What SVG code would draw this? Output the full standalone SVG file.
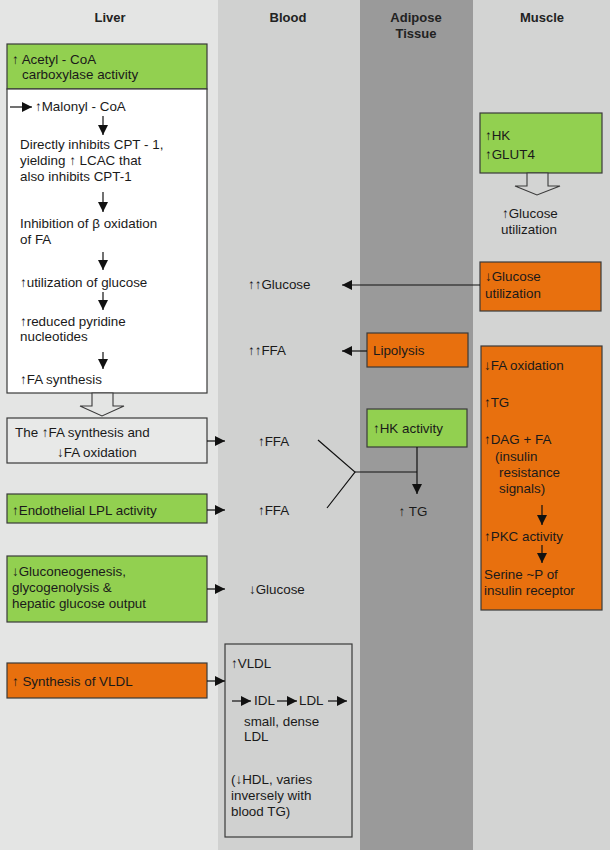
<svg xmlns="http://www.w3.org/2000/svg" width="610" height="850" viewBox="0 0 610 850">
<defs>
<marker id="ah" viewBox="0 0 10 10" refX="10" refY="5" markerWidth="11" markerHeight="10" markerUnits="userSpaceOnUse" orient="auto">
<path d="M0,0 L10,5 L0,10 z" fill="#111"/>
</marker>
</defs>
<style>
text{font-family:"Liberation Sans",Arial,Helvetica,sans-serif;font-size:13.4px;fill:#1a1a1a}
.hd{font-weight:bold;font-size:13px;text-anchor:middle;fill:#222}
.green{fill:#92d050;stroke:#3a3a3a;stroke-width:1.2}
.orange{fill:#e8700e;stroke:#3a3a3a;stroke-width:1.2}
.white{fill:#ffffff;stroke:#3a3a3a;stroke-width:1.2}
.plain{fill:#e8e9e8;stroke:#3a3a3a;stroke-width:1.2}
.bbox{fill:#d0d1d0;stroke:#3a3a3a;stroke-width:1.2}
.ln{stroke:#111;stroke-width:1.2;fill:none}
.arr{stroke:#111;stroke-width:1.2;fill:none;marker-end:url(#ah)}
.hollow{stroke:#3a3a3a;stroke-width:1.1}
</style>
<g id="background">
<rect x="0" y="0" width="218" height="850" fill="#e4e5e4"/>
<rect x="218" y="0" width="142" height="850" fill="#d0d1d0"/>
<rect x="360" y="0" width="113" height="850" fill="#9a9a9a"/>
<rect x="473" y="0" width="137" height="850" fill="#d3d4d3"/>
<text class="hd" x="110" y="22">Liver</text>
<text class="hd" x="288" y="22">Blood</text>
<text class="hd" x="416" y="22">Adipose</text>
<text class="hd" x="416" y="38">Tissue</text>
<text class="hd" x="542" y="22">Muscle</text>
</g>
<g id="liver-acc">
<rect class="green" x="7" y="44" width="200" height="45"/>
<text x="12" y="64">↑ Acetyl - CoA</text>
<text x="22" y="79">carboxylase activity</text>
</g>
<g id="liver-cascade">
<rect class="white" x="7" y="89" width="200" height="304"/>
<text x="35" y="111">↑Malonyl - CoA</text>
<text x="20" y="149">Directly inhibits CPT - 1,</text>
<text x="20" y="165">yielding ↑ LCAC that</text>
<text x="20" y="181">also inhibits CPT-1</text>
<text x="20" y="228">Inhibition of β oxidation</text>
<text x="20" y="244">of FA</text>
<text x="20" y="287">↑utilization of glucose</text>
<text x="20" y="326">↑reduced pyridine</text>
<text x="20" y="341">nucleotides</text>
<text x="20" y="384">↑FA synthesis</text>
</g>
<g id="liver-fa">
<rect class="plain" x="7" y="418" width="200" height="45"/>
<text x="15" y="437">The ↑FA synthesis and</text>
<text x="57" y="457">↓FA oxidation</text>
</g>
<g id="liver-lpl">
<rect class="green" x="7" y="494" width="200" height="29"/>
<text x="12" y="515">↑Endothelial LPL activity</text>
</g>
<g id="liver-gluco">
<rect class="green" x="7" y="556" width="200" height="66"/>
<text x="12" y="576">↓Gluconeogenesis,</text>
<text x="12" y="592">glycogenolysis &amp;</text>
<text x="12" y="608">hepatic glucose output</text>
</g>
<g id="liver-vldl">
<rect class="orange" x="7" y="663" width="200" height="35"/>
<text x="12" y="686">↑ Synthesis of VLDL</text>
</g>
<g id="blood-labels">
<text x="248" y="289">↑↑Glucose</text>
<text x="248" y="355">↑↑FFA</text>
<text x="258" y="446">↑FFA</text>
<text x="258" y="515">↑FFA</text>
<text x="249" y="594">↓Glucose</text>
</g>
<g id="blood-lipo">
<rect class="bbox" x="225" y="644" width="127" height="193"/>
<text x="231" y="668">↑VLDL</text>
<text x="254" y="705">IDL</text>
<text x="299" y="705">LDL</text>
<text x="244" y="726">small, dense</text>
<text x="244" y="741">LDL</text>
<text x="231" y="784">(↓HDL, varies</text>
<text x="231" y="800">inversely with</text>
<text x="231" y="816">blood TG)</text>
</g>
<g id="adipose-lipolysis">
<rect class="orange" x="367" y="333" width="101" height="34"/>
<text x="373" y="355">Lipolysis</text>
</g>
<g id="adipose-hk">
<rect class="green" x="367" y="409" width="100" height="38"/>
<text x="373" y="433">↑HK activity</text>
</g>
<g id="adipose-tg">
<text x="413" y="516" text-anchor="middle">↑ TG</text>
</g>
<g id="muscle-hk">
<rect class="green" x="480" y="113" width="122" height="60"/>
<text x="485" y="140">↑HK</text>
<text x="485" y="159">↑GLUT4</text>
</g>
<g id="muscle-glucose-up">
<text x="502" y="218">↑Glucose</text>
<text x="501" y="234">utilization</text>
</g>
<g id="muscle-glucose-down">
<rect class="orange" x="480" y="262" width="121" height="49"/>
<text x="485" y="281">↓Glucose</text>
<text x="485" y="298">utilization</text>
</g>
<g id="muscle-fa">
<rect class="orange" x="481" y="346" width="121" height="264"/>
<text x="484" y="370">↓FA oxidation</text>
<text x="484" y="407">↑TG</text>
<text x="484" y="444">↑DAG + FA</text>
<text x="495" y="461">(insulin</text>
<text x="499" y="477">resistance</text>
<text x="499" y="493">signals)</text>
<text x="484" y="541">↑PKC activity</text>
<text x="484" y="579">Serine ~P of</text>
<text x="484" y="595">insulin receptor</text>
</g>
<g id="connectors">
<line class="arr" x1="10" y1="107" x2="32" y2="107"/>
<line class="arr" x1="103" y1="116" x2="103" y2="135"/>
<line class="arr" x1="103" y1="192" x2="103" y2="212"/>
<line class="arr" x1="103" y1="252" x2="103" y2="270"/>
<line class="arr" x1="103" y1="292" x2="103" y2="310"/>
<line class="arr" x1="103" y1="352" x2="103" y2="369"/>
<polygon class="hollow" fill="#e4e5e4" points="92,393 92,406 80,406 102,416 124,406 113,406 113,393"/>
<polygon class="hollow" fill="#d3d4d3" points="527,173 527,186 515,186 537,195 560,186 548,186 548,173"/>
<line class="arr" x1="207" y1="441" x2="225" y2="441"/>
<line class="arr" x1="207" y1="510" x2="225" y2="510"/>
<line class="arr" x1="207" y1="589" x2="225" y2="589"/>
<line class="arr" x1="207" y1="681" x2="225" y2="681"/>
<line class="arr" x1="232" y1="701" x2="251" y2="701"/>
<line class="arr" x1="277" y1="701" x2="297" y2="701"/>
<line class="arr" x1="328" y1="701" x2="347" y2="701"/>
<line class="arr" x1="480" y1="285" x2="342" y2="285"/>
<line class="arr" x1="367" y1="351" x2="342" y2="351"/>
<polyline class="ln" points="318,440 355,472 327,508"/>
<line class="ln" x1="355" y1="472" x2="417" y2="472"/>
<line class="arr" x1="417" y1="447" x2="417" y2="494"/>
<line class="arr" x1="542" y1="505" x2="542" y2="525"/>
<line class="arr" x1="542" y1="545" x2="542" y2="563"/>
</g>
</svg>
